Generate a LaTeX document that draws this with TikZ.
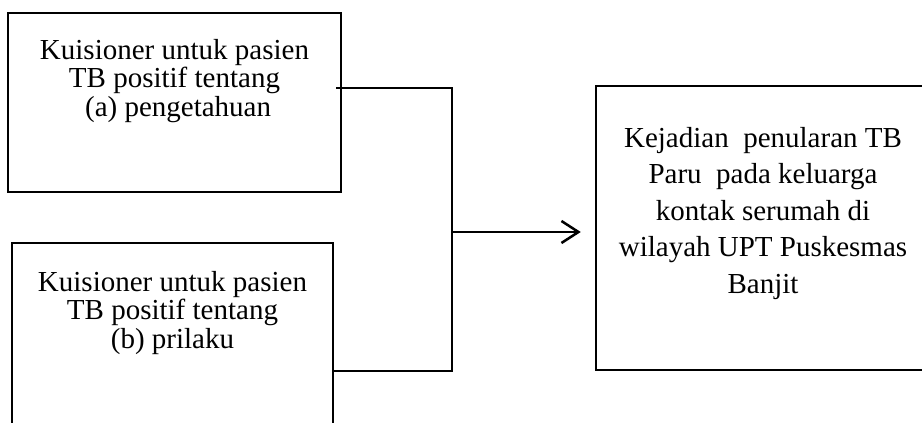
\documentclass[tikz,border=0pt]{standalone}
\usepackage{fontspec}
\setmainfont{Liberation Serif}
\usetikzlibrary{arrows.meta}
\begin{document}
\begin{tikzpicture}[x=1pt,y=1pt,
  box/.style={draw=black, line width=2.5pt, inner sep=0pt},
  txtL/.style={inner sep=0pt, anchor=north, align=center, font=\fontsize{29}{28.5}\selectfont},
  txtR/.style={inner sep=0pt, anchor=north, align=center, font=\fontsize{29}{36.5}\selectfont},
  conn/.style={draw=black, line width=2.5pt},
  arr/.style={conn, -{Straight Barb[length=17pt,width=22pt,line width=2.5pt]}}]
\useasboundingbox (0,0) rectangle (922,-423);
\clip (0,0) rectangle (922,-423);
% boxes
\node[box, minimum width=333pt, minimum height=179pt] (b1) at (174.5,-102.5) {};
\node[box, minimum width=321pt, minimum height=190pt] (b2) at (172.5,-338) {};
\node[box, minimum width=338pt, minimum height=284pt] (b3) at (765,-228) {};
% texts
\node[txtL] (t1) at (174.5,-39) {Kuisioner untuk pasien\\TB positif tentang\\\ (a) pengetahuan};
\node[txtL] (t2) at (172.5,-271) {Kuisioner untuk pasien\\TB positif tentang\\(b) prilaku};
\node[txtR] (t3) at (763,-127) {Kejadian\ \ penularan TB\\Paru\ \ pada keluarga\\kontak serumah di\\wilayah UPT Puskesmas\\Banjit};
% junctions
\coordinate (j1) at (452,-88);
\coordinate (j2) at (452,-371);
\coordinate (jm) at (452,-232);
% connectors
\draw[conn] ([xshift=-6pt]b1.east |- j1) -- (j1) -- (j2) -- (b2.east |- j2);
\draw[arr, shorten >=14pt] (jm) -- (b3.west |- jm);
\end{tikzpicture}
\end{document}
